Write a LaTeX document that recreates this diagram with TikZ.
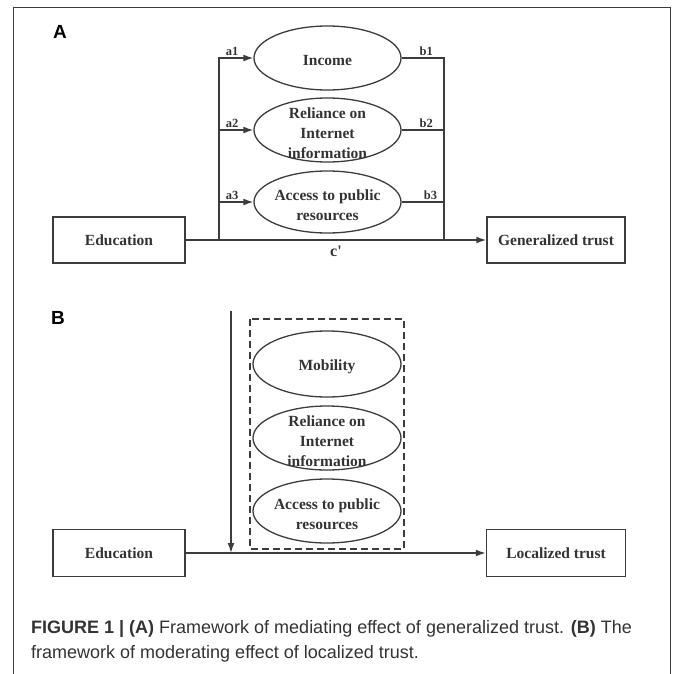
\documentclass[tikz,border=0pt]{standalone}
\usepackage{fontspec}
\setmainfont{Liberation Serif}
\setsansfont{Liberation Sans}
\usepackage{tikz}
\usetikzlibrary{arrows, arrows.meta, shapes, positioning}
\definecolor{inkgray}{HTML}{333333}
\definecolor{linegray}{HTML}{3C3C3C}

\begin{document}
\begin{tikzpicture}[auto,>={Latex[length=10pt,width=7pt]},x=1pt,y=1pt]
        \tikzstyle{block} = [draw=linegray, shape=rectangle, minimum height=46pt,
        line width=1.5pt, text=inkgray, font=\fontsize{15.5}{20}\selectfont\bfseries]
        \tikzstyle{oval} = [draw=linegray, shape=ellipse, minimum width=147pt,
        minimum height=64pt, inner sep=0pt, line width=1.3pt]
        \tikzstyle{ovaltext} = [align=center, text=inkgray, yshift=-3pt,
        font=\fontsize{15.5}{20}\selectfont\bfseries]
        \tikzstyle{path label} = [text=inkgray, inner sep=2pt,
        font=\fontsize{12.5}{14}\selectfont\bfseries]
        \tikzstyle{effect label} = [text=inkgray, inner sep=5pt,
        font=\fontsize{16}{18}\selectfont\bfseries]
        \tikzstyle{panel} = [font=\fontsize{19}{22}\selectfont\sffamily\bfseries]
        \tikzstyle{modframe} = [draw=linegray, line width=1.3pt, dash pattern=on 7pt off 4pt]
        \useasboundingbox (0,0) rectangle (672,-674);
        % outer frame
        \draw[linegray, line width=0.9pt] (13,-674) -- (13,-7) -- (670,-7) -- (670,-674);

        %Panel A: mediating effect
        \node[panel] at (60,-32) (labelA) {A};
        \node [block, minimum width=132pt] at (119,-240) (eduA) {Education};
        \node [block, minimum width=138pt, right of=eduA, node distance=437pt] (trustA) {Generalized trust};
        \node [oval, label={[ovaltext]center:Income}] at (327.5,-58) (income) {};
        \node [oval, below of=income, node distance=72pt,
               label={[ovaltext]center:{Reliance on\\Internet\\information}}] (reliance) {};
        \node [oval, minimum height=62pt, below of=reliance, node distance=72pt,
               label={[ovaltext]center:{Access to public\\resources}}] (access) {};
        \coordinate (splitA) at (219,-240);
        \coordinate (joinA) at (444,-240);

        %Panel B: moderating effect
        \node[panel] at (58,-318) (labelB) {B};
        \node [block, minimum width=132pt, minimum height=47pt, below of=eduA, node distance=313pt] (eduB) {Education};
        \node [block, minimum width=139pt, minimum height=47pt, right of=eduB, node distance=437pt] (trustB) {Localized trust};
        \node [oval, minimum width=148pt, minimum height=66pt, label={[ovaltext]center:Mobility}] at (327,-364) (mobility) {};
        \node [oval, minimum width=148pt, below of=mobility, node distance=74pt,
               label={[ovaltext]center:{Reliance on\\Internet\\information}}] (relianceB) {};
        \node [oval, minimum width=148pt, below of=relianceB, node distance=73pt,
               label={[ovaltext]center:{Access to public\\resources}}] (accessB) {};
        \coordinate (modtop) at (231,-311);
        \coordinate (modend) at (231,-553);

        %Caption
        \node [anchor=north west, align=left, inner sep=0pt, text=inkgray,
               font=\fontsize{18}{25}\selectfont\sffamily] at (31,-620) (caption)
               {\textbf{FIGURE 1 | (A)} Framework of mediating effect of generalized trust. \textbf{(B)} The\\
               framework of moderating effect of localized trust.};

        %Connecting Blocks
        \begin{scope}[line width=1.5pt, draw=linegray]
            \draw[->] (splitA) |- node[path label, pos=0.69, above] {a1} (income.west);
            \draw[->] (splitA) |- node[path label, pos=0.69, above] {a2} (reliance.west);
            \draw[->] (splitA) |- node[path label, pos=0.69, above] {a3} (access.west);
            \draw (income.east) -| node[path label, pos=0.29, above] {b1} (joinA);
            \draw (reliance.east) -| node[path label, pos=0.29, above] {b2} (joinA);
            \draw (access.east) -| node[path label, pos=0.34, above] {b3} (joinA);
            \draw[->] (eduA) -- node[effect label, below] {c\textquotesingle} (trustA);
            \draw[->] (eduB) -- (trustB);
            \draw[->] (modtop) -- (modend);
        \end{scope}
        \draw[modframe] (250,-319) rectangle (404,-549);
\end{tikzpicture}
\end{document}
